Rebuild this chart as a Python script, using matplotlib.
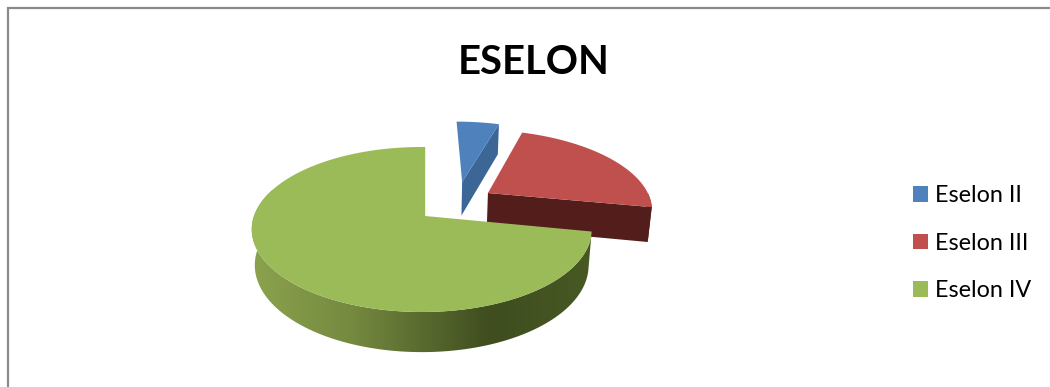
import numpy as np
import matplotlib
matplotlib.use("Agg")
import matplotlib.pyplot as plt
from matplotlib.colors import LinearSegmentedColormap
from matplotlib.patches import Patch, Polygon

labels = ["Eselon II", "Eselon III", "Eselon IV"]
values = [5, 23, 72]

top_colors = ["#4f81bd", "#c0504d", "#9bbb59"]
cut_colors = ["#3b6696", "#521d1b", "#46561f"]
explode = [(0.27, 0.455), (0.425, 0.30), (0.01, 0.0)]

# pixel geometry of the tilted pie
CX, CY = 420.0, 216.0
RX, RY = 167.7, 80.3
PERSP = 0.1636
DEPTH = 36.0
SHRINK = 0.018
GREEN_APEX_DX = 3.5
GREEN_RIM_OVERRUN = 1.5


def project(u, v, low=False):
    d = 1 + PERSP * v + (SHRINK if low else 0)
    drop = DEPTH if low else 0
    return CX + RX * u / d, CY + (drop - RY * v) / d


def arc(theta1, theta2, off, low=False, n=120):
    t = np.radians(np.linspace(theta1, theta2, n))
    return project(off[0] + np.sin(t), off[1] + np.cos(t), low)


def poly_xy(x, y):
    return np.column_stack([x, y])


def wedge_top(ax, theta1, theta2, off, color, z, apex_dx=0.0):
    x, y = arc(theta1, theta2, off)
    ax0, ay0 = project(off[0], off[1])
    xy = np.vstack([[ax0 + apex_dx, ay0], poly_xy(x, y)])
    ax.add_patch(Polygon(xy, closed=True, fc=color, ec="none", zorder=z))


def cut_face(ax, theta, off, color, z):
    # flat radial face between the apex and the rim
    t = np.radians(theta)
    u, v = off[0] + np.sin(t), off[1] + np.cos(t)
    pts = [project(off[0], off[1]), project(u, v),
           project(u, v, True), project(off[0], off[1], True)]
    ax.add_patch(Polygon(pts, closed=True, fc=color, ec="none", zorder=z))


def rim_path(theta1, theta2, off):
    x1, y1 = arc(theta1, theta2, off)
    x2, y2 = arc(theta1, theta2, off, low=True)
    return np.vstack([poly_xy(x1, y1), poly_xy(x2, y2)[::-1]])


fig = plt.figure(figsize=(10.5, 3.87), dpi=100)
ax = fig.add_axes([0, 0, 1, 1])
ax.set_xlim(0, 1050)
ax.set_ylim(387, 0)
ax.axis("off")

# chart frame, only the left and top edges are in view
ax.plot([8, 8, 1050], [387, 8, 8], color="#8a8a8a", lw=1.6,
        solid_joinstyle="miter")

edges = np.cumsum([0] + values) / sum(values) * 360

# blue and red slices are pulled out, green stays in place
cut_face(ax, edges[1], explode[0], cut_colors[0], 2)
wedge_top(ax, edges[0], edges[1], explode[0], top_colors[0], 3)

cut_face(ax, edges[2], explode[1], cut_colors[1], 4)
red_rim = rim_path(90, edges[2], explode[1])
ax.add_patch(Polygon(red_rim, closed=True, fc=cut_colors[1], ec="none", zorder=4))
wedge_top(ax, edges[1], edges[2], explode[1], top_colors[1], 5)

# green outer wall with a left to right shade
green_rim = rim_path(edges[2], 290, explode[2])
wall = Polygon(green_rim, closed=True, fc="none", ec="none", zorder=6)
ax.add_patch(wall)
shade = LinearSegmentedColormap.from_list(
    "wall", [(0, "#8ba34e"), (0.3, "#75893f"), (0.7, "#3f4d1f"), (1, "#485923")])
im = ax.imshow(np.linspace(0, 1, 256)[None, :], cmap=shade, aspect="auto",
               extent=(250, 593, 387, 150), zorder=6)
im.set_clip_path(wall)
ax.set_xlim(0, 1050)
ax.set_ylim(387, 0)
wedge_top(ax, edges[2], 360 + GREEN_RIM_OVERRUN, explode[2], top_colors[2], 7,
          apex_dx=GREEN_APEX_DX)

ax.text(534, 62, "ESELON", family="Lato", weight="bold", fontsize=28.8,
        ha="center", va="center", color="black")

handles = [Patch(fc=c, ec="none") for c in top_colors]
ax.legend(handles, labels, loc="upper left", bbox_to_anchor=(913 / 1050, 1 - 185 / 387),
          frameon=False, prop={"family": "Lato", "size": 16.8}, handlelength=0.64,
          handleheight=0.64, handletextpad=0.3, labelspacing=1.14, borderpad=0,
          borderaxespad=0)

fig.savefig("out.png", dpi=100)
plt.close(fig)
